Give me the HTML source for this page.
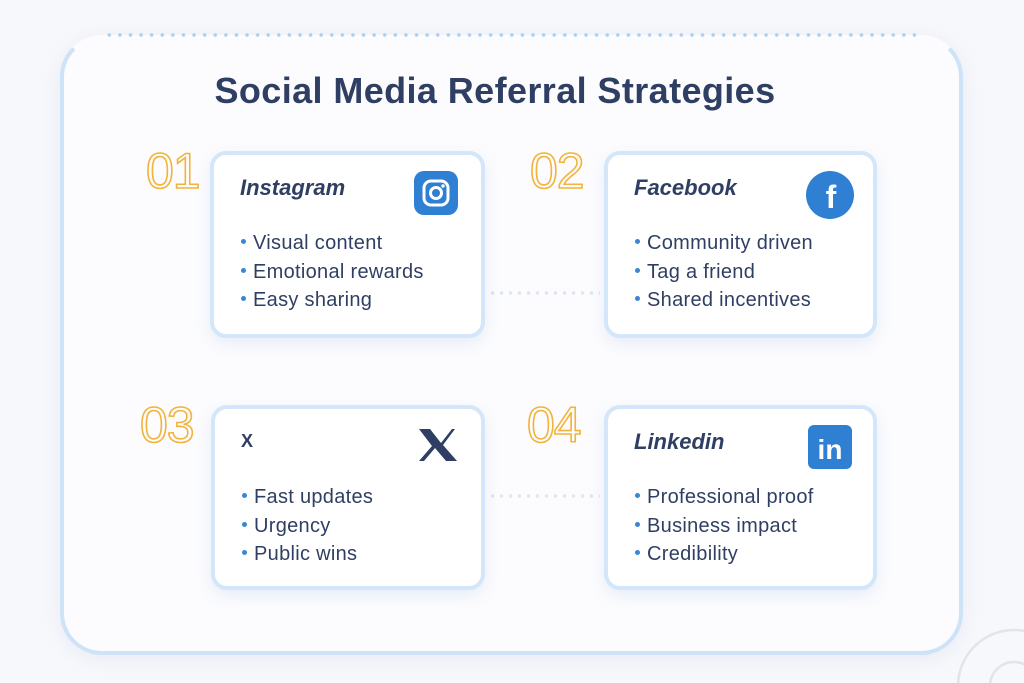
<!DOCTYPE html>
<html><head><meta charset="utf-8"><style>
html,body{margin:0;overflow:hidden}
body{width:1024px;height:683px;background:#f7f8fb;position:relative;font-family:"Liberation Sans",sans-serif;color:#2f3f63}
.frame{position:absolute;left:60px;top:35px;width:895px;height:612px;border:4px solid #cfe3f8;border-top-color:transparent;border-radius:42px;background:#fcfcfe;box-shadow:0 4px 20px rgba(150,170,210,.15)}
.dots{position:absolute;left:104px;top:33px;width:812px;height:4px;background:radial-gradient(circle,#a9d0f5 1.6px,transparent 2px) 0 0/10.6px 4px repeat-x}
h1{position:absolute;left:0;width:990px;top:70px;margin:0;text-align:center;font-size:36px;font-weight:bold;letter-spacing:.4px;color:#2f3f63}
.card{position:absolute;background:#fff;border:4px solid #d3e6fa;border-radius:16px;box-shadow:0 6px 16px rgba(140,170,215,.18)}
.card .t{position:absolute;left:26px;top:20px;font-size:22px;font-weight:bold;font-style:italic;color:#2f3f63}
.card ul{position:absolute;left:27px;top:74px;margin:0;padding:0;list-style:none;font-size:20px;letter-spacing:.3px;line-height:28.5px;color:#2f3f63;white-space:nowrap}
.card li:before{content:"";display:inline-block;width:5px;height:5px;border-radius:50%;background:#3a86d6;margin-right:7px;vertical-align:middle;position:relative;top:-2px}
.num{position:absolute;font-size:50px;font-weight:normal;color:transparent;-webkit-text-stroke:1.6px #f2b33a;letter-spacing:-1px}
.conn{position:absolute;height:4px;background:radial-gradient(circle,#dde6f2 1.6px,transparent 2px) 0 0/9px 4px repeat-x}
.icon{position:absolute;width:44px;height:44px}
</style></head><body>
<div class="frame"></div>
<div class="dots"></div>
<h1>Social Media Referral Strategies</h1>
<div class="conn" style="left:488px;top:291px;width:112px"></div>
<div class="conn" style="left:488px;top:494px;width:112px"></div>

<div class="num" style="left:146px;top:142px">01</div>
<div class="num" style="left:530px;top:142px">02</div>
<div class="num" style="left:140px;top:396px">03</div>
<div class="num" style="left:527px;top:396px">04</div>

<div class="card" style="left:210px;top:151px;width:267px;height:179px">
<div class="t">Instagram</div>
<svg class="icon" style="left:200px;top:16px" viewBox="0 0 44 44"><rect width="44" height="44" rx="10" fill="#2f7fd3"/><rect x="10" y="10" width="24" height="24" rx="7" fill="none" stroke="#fff" stroke-width="3"/><circle cx="22" cy="22" r="5.5" fill="none" stroke="#fff" stroke-width="3"/><circle cx="29" cy="15" r="1.7" fill="#fff"/></svg>
<ul><li>Visual content</li><li>Emotional rewards</li><li>Easy sharing</li></ul></div>

<div class="card" style="left:604px;top:151px;width:265px;height:179px">
<div class="t">Facebook</div>
<svg class="icon" style="left:198px;top:16px;width:48px;height:48px" viewBox="0 0 48 48"><circle cx="24" cy="24" r="24" fill="#2f7fd3"/><text x="25" y="37" text-anchor="middle" font-family="Liberation Sans" font-weight="bold" font-size="32" fill="#fff">f</text></svg>
<ul><li>Community driven</li><li>Tag a friend</li><li>Shared incentives</li></ul></div>

<div class="card" style="left:211px;top:405px;width:266px;height:177px">
<div class="t" style="font-style:normal;top:22px;font-size:18px">X</div>
<svg class="icon" style="left:200px;top:14px" viewBox="0 0 44 44"><path d="M4 6h11l11 14 11-14h3L28 22l14 16H31L20 25 9 38H4l13-15z" fill="#2f3f63"/></svg>
<ul><li>Fast updates</li><li>Urgency</li><li>Public wins</li></ul></div>

<div class="card" style="left:604px;top:405px;width:265px;height:177px">
<div class="t">Linkedin</div>
<svg class="icon" style="left:200px;top:16px" viewBox="0 0 44 44"><rect width="44" height="44" rx="6" fill="#2f7fd3"/><text x="22" y="34" text-anchor="middle" font-family="Liberation Sans" font-weight="bold" font-size="28" fill="#fff">in</text></svg>
<ul><li>Professional proof</li><li>Business impact</li><li>Credibility</li></ul></div>

<svg style="position:absolute;left:950px;top:620px" width="74" height="63"><circle cx="64" cy="66" r="56" fill="none" stroke="#e1e4ec" stroke-width="2.5"/><circle cx="64" cy="66" r="24" fill="none" stroke="#e1e4ec" stroke-width="2.5"/></svg>
</body></html>
